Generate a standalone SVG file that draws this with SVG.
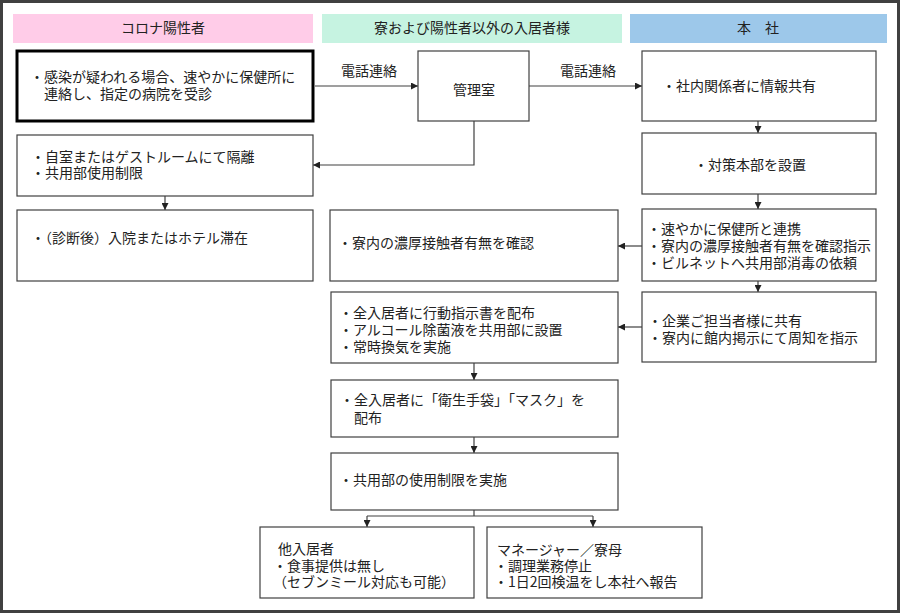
<svg xmlns="http://www.w3.org/2000/svg" width="900" height="613" viewBox="0 0 900 613">
<defs>
<marker id="ah" markerWidth="7" markerHeight="7" refX="7" refY="3.5" orient="auto" markerUnits="userSpaceOnUse">
<path d="M0,0 L7,3.5 L0,7 z" fill="#222"/>
</marker>
<style>
text{font-family:"Noto Sans CJK JP","Noto Sans",sans-serif;font-size:14px;fill:#222}
.hd{text-anchor:middle}
.box{fill:#fff;stroke:#404040;stroke-width:1.2}
.thick{fill:#fff;stroke:#000;stroke-width:3}
.con{fill:none;stroke:#404040;stroke-width:1.2}
.arr{fill:none;stroke:#404040;stroke-width:1.2;marker-end:url(#ah)}
</style>
</defs>
<rect x="0" y="0" width="900" height="613" fill="#fff"/>
<rect x="1.5" y="1.5" width="897" height="610" fill="none" stroke="#404040" stroke-width="3"/>

<g id="header-positive">
<rect x="13" y="14" width="300" height="29" fill="#FFCCE8"/>
<text class="hd" x="163" y="33">コロナ陽性者</text>
</g>
<g id="header-residents">
<rect x="322" y="14" width="300" height="29" fill="#C6F3E1"/>
<text class="hd" x="472" y="33">寮および陽性者以外の入居者様</text>
</g>
<g id="header-hq">
<rect x="630" y="14" width="257" height="29" fill="#9DC8EA"/>
<text class="hd" x="758" y="33">本　社</text>
</g>

<g id="connectors">
<line class="arr" x1="315" y1="86" x2="418" y2="86"/>
<text class="hd" x="369" y="76">電話連絡</text>
<line class="arr" x1="529" y1="86" x2="642" y2="86"/>
<text class="hd" x="588" y="76">電話連絡</text>
<polyline class="arr" points="474,121 474,165 313,165"/>
<line class="arr" x1="165" y1="196" x2="165" y2="210"/>
<line class="arr" x1="758" y1="121" x2="758" y2="133"/>
<line class="arr" x1="758" y1="194" x2="758" y2="209"/>
<line class="arr" x1="642" y1="246" x2="618" y2="246"/>
<line class="arr" x1="758" y1="281" x2="758" y2="292"/>
<line class="arr" x1="642" y1="327" x2="618" y2="327"/>
<line class="arr" x1="474" y1="363" x2="474" y2="380"/>
<line class="arr" x1="474" y1="437" x2="474" y2="453"/>
<line class="con" x1="474" y1="510" x2="474" y2="516"/>
<line class="con" x1="367" y1="516" x2="593" y2="516"/>
<line class="arr" x1="367" y1="516" x2="367" y2="527"/>
<line class="arr" x1="593" y1="516" x2="593" y2="527"/>
</g>

<g id="n-suspect">
<rect class="thick" x="17" y="51" width="296" height="70"/>
<text><tspan x="30" y="82">・感染が疑われる場合、速やかに保健所に</tspan><tspan x="44" y="99">連絡し、指定の病院を受診</tspan></text>
</g>
<g id="n-office">
<rect class="box" x="418" y="51" width="111" height="70"/>
<text class="hd" x="474" y="95">管理室</text>
</g>
<g id="n-share">
<rect class="box" x="642" y="51" width="234" height="70"/>
<text x="662" y="91">・社内関係者に情報共有</text>
</g>
<g id="n-isolate">
<rect class="box" x="17" y="135" width="296" height="61"/>
<text><tspan x="31" y="162">・自室またはゲストルームにて隔離</tspan><tspan x="31" y="178">・共用部使用制限</tspan></text>
</g>
<g id="n-hospital">
<rect class="box" x="17" y="210" width="296" height="71"/>
<text x="31" y="243">・（診断後）入院またはホテル滞在</text>
</g>
<g id="n-hq">
<rect class="box" x="642" y="133" width="234" height="61"/>
<text x="694" y="170">・対策本部を設置</text>
</g>
<g id="n-contact">
<rect class="box" x="330" y="210" width="288" height="71"/>
<text x="338" y="248">・寮内の濃厚接触者有無を確認</text>
</g>
<g id="n-health">
<rect class="box" x="642" y="209" width="234" height="72"/>
<text><tspan x="647" y="234">・速やかに保健所と連携</tspan><tspan x="647" y="251">・寮内の濃厚接触者有無を確認指示</tspan><tspan x="647" y="268">・ビルネットへ共用部消毒の依頼</tspan></text>
</g>
<g id="n-distribute">
<rect class="box" x="331" y="292" width="287" height="71"/>
<text><tspan x="339" y="318">・全入居者に行動指示書を配布</tspan><tspan x="339" y="335">・アルコール除菌液を共用部に設置</tspan><tspan x="339" y="352">・常時換気を実施</tspan></text>
</g>
<g id="n-company">
<rect class="box" x="642" y="292" width="234" height="70"/>
<text><tspan x="648" y="326">・企業ご担当者様に共有</tspan><tspan x="648" y="343">・寮内に館内掲示にて周知を指示</tspan></text>
</g>
<g id="n-mask">
<rect class="box" x="331" y="380" width="287" height="57"/>
<text><tspan x="340" y="405">・全入居者に「衛生手袋」「マスク」を</tspan><tspan x="354" y="423">配布</tspan></text>
</g>
<g id="n-restrict">
<rect class="box" x="331" y="453" width="287" height="57"/>
<text x="339" y="485">・共用部の使用制限を実施</text>
</g>
<g id="n-others">
<rect class="box" x="260" y="527" width="214" height="71"/>
<text><tspan x="278" y="554">他入居者</tspan><tspan x="273" y="571">・食事提供は無し</tspan><tspan x="273" y="587">（セブンミール対応も可能）</tspan></text>
</g>
<g id="n-manager">
<rect class="box" x="487" y="527" width="215" height="71"/>
<text><tspan x="497" y="555">マネージャー／寮母</tspan><tspan x="494" y="571">・調理業務停止</tspan><tspan x="494" y="587">・1日2回検温をし本社へ報告</tspan></text>
</g>
</svg>
